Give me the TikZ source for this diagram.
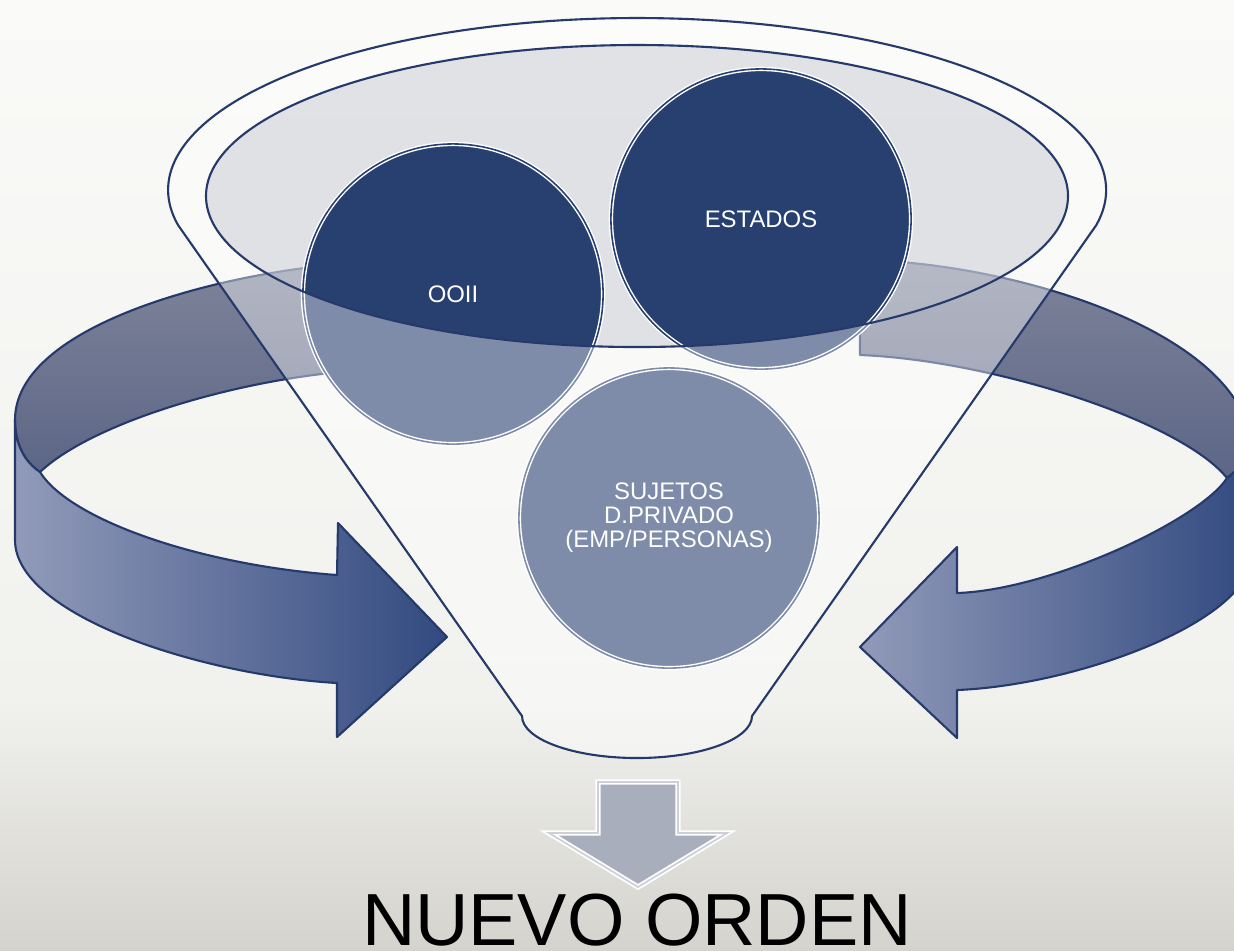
\documentclass[tikz,border=0pt]{standalone}
\usepackage{fontspec}
\setmainfont{Liberation Sans}
\definecolor{navy}{RGB}{40,64,112}
\definecolor{edge}{RGB}{37,58,107}
\definecolor{bgtop}{RGB}{250,250,248}
\definecolor{bgmid}{RGB}{241,241,238}
\definecolor{bgbot}{RGB}{212,211,205}
\definecolor{backtop}{RGB}{126,131,153}
\definecolor{backbot}{RGB}{92,102,134}
\definecolor{frontlight}{RGB}{145,154,185}
\definecolor{frontdark}{RGB}{50,74,128}
\definecolor{innerfill}{RGB}{211,214,221}
\definecolor{downfill}{RGB}{169,174,188}
\definecolor{downgap}{RGB}{205,208,216}
\begin{document}
\begin{tikzpicture}[x=0.01cm,y=-0.01cm,
  outline/.style={draw=edge, line width=0.6pt, line join=round},
  ball/.style={circle, minimum size=3cm, inner sep=0pt, fill=navy, draw=white,
    double=navy, double distance=0.45pt, line width=0.4pt, text=white,
    align=center, font=\fontsize{6.8}{6.85}\selectfont},
  backband/.style={outline, top color=backtop, bottom color=backbot},
  frontband/.style={outline, left color=frontlight, right color=frontdark},
  downarrow/.style={fill=downfill, draw=white, double=downgap, double distance=0.5pt, line width=0.5pt, line join=miter}
]
\useasboundingbox (0,0) rectangle (1234,950);
\clip (0,0) rectangle (1234,950);
% background
\fill[top color=bgtop, bottom color=bgmid] (0,0) rectangle (1234,700);
\fill[top color=bgmid, bottom color=bgbot] (0,699) rectangle (1234,951);

% left circular arrow
\path[backband] (330,265) .. controls (200,278) and (15,330) .. (15,420)
  .. controls (15,445) and (25,462) .. (40,472)
  .. controls (90,425) and (220,385) .. (330,373) -- cycle;
\path[frontband] (15,420) -- (15,540) .. controls (15,615) and (200,675) .. (337,683)
  -- (337,737) -- (447,637) -- (338,523) -- (337,575)
  .. controls (200,565) and (70,520) .. (40,472)
  .. controls (25,462) and (15,445) .. (15,420) -- cycle;

% right circular arrow
\path[backband] (860,260) .. controls (1010,262) and (1240,330) .. (1252,445)
  .. controls (1252,455) and (1240,468) .. (1227,478)
  .. controls (1180,420) and (990,360) .. (860,355) -- cycle;
\path[frontband] (1252,445) -- (1252,555) .. controls (1252,620) and (1080,685) .. (957,690)
  -- (957,738) -- (860,647) -- (957,547) -- (957,593)
  .. controls (1050,590) and (1200,520) .. (1227,478)
  .. controls (1240,468) and (1252,455) .. (1252,445) -- cycle;

% funnel mouth fill
\fill[innerfill, fill opacity=0.65] (637,196) ellipse[x radius=431, y radius=151];

% circles
\node[ball] (ooii) at (453,294) {OOII};
\node[ball] (estados) at (761,219) {ESTADOS};
\node[ball] (sujetos) at (669,518) {SUJETOS\\D.PRIVADO\\(EMP/PERSONAS)};

% funnel body (translucent)
\fill[white, fill opacity=0.4, even odd rule]
  (178,225) arc[start angle=168.26, end angle=371.74, x radius=469, y radius=172]
  -- (752,716) arc[start angle=0, end angle=180, x radius=115, y radius=42] -- cycle
  (637,196) ellipse[x radius=431, y radius=151];

% funnel outlines
\draw[outline] (637,196) ellipse[x radius=431, y radius=151];
\draw[outline] (178,225) arc[start angle=168.26, end angle=371.74, x radius=469, y radius=172]
  -- (752,716) arc[start angle=0, end angle=180, x radius=115, y radius=42] -- cycle;

% down arrow
\draw[downarrow] (598,782) -- (678,782) -- (678,833) -- (727,833) -- (638,887)
  -- (549,833) -- (598,833) -- cycle;

\node[anchor=base, inner sep=0pt, font=\fontsize{21}{21}\selectfont] (nuevo) at (637,945) {NUEVO ORDEN};
\end{tikzpicture}
\end{document}
